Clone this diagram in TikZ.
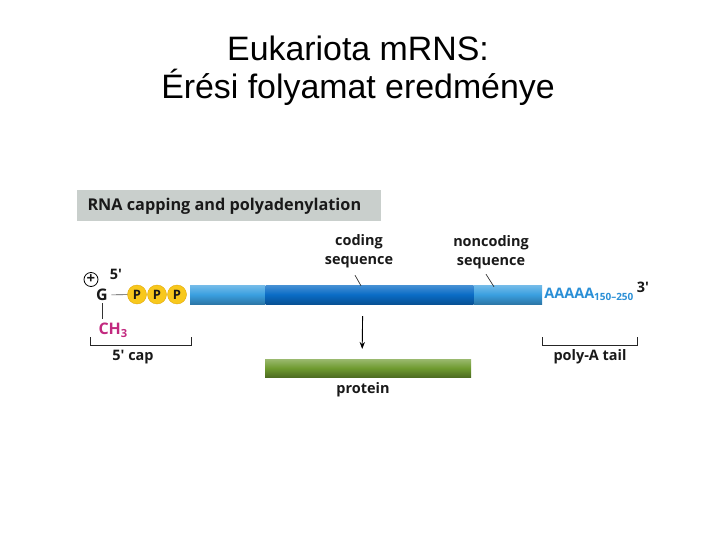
\documentclass[tikz,border=0pt]{standalone}
\usepackage{fontspec}
\setmainfont{Liberation Sans}
\newfontfamily\figfont{Open Sans}
\definecolor{capgray}{HTML}{C9CFCC}
\definecolor{lightrna}{HTML}{3A9FE0}
\definecolor{darkrna}{HTML}{0A6CC6}
\definecolor{polyblue}{HTML}{2A8FD6}
\definecolor{phosfill}{HTML}{F8C81C}
\definecolor{phosline}{HTML}{E2A90A}
\definecolor{methyl}{HTML}{C2297F}
\definecolor{protgreen}{HTML}{6E9A2F}
\usetikzlibrary{arrows.meta,positioning}

\begin{document}
\begin{tikzpicture}[x=1bp,y=-1bp,>=Stealth,
  every node/.style={font=\figfont\bfseries\fontsize{14.5}{19}\selectfont,text=black!90},
  lightseg/.style={rectangle,inner sep=0,minimum height=19bp,top color=lightrna!70!white,bottom color=lightrna!75!black,middle color=lightrna},
  darkseg/.style={rectangle,inner sep=0,minimum height=19bp,top color=darkrna!75!white,bottom color=darkrna!75!black,middle color=darkrna},
  phos/.style={circle,fill=phosfill,draw=phosline,inner sep=0,minimum size=19bp,font=\figfont\bfseries\fontsize{13}{14}\selectfont},
  bracket/.style={black!85,line width=0.9bp}]
\useasboundingbox (0,0) rectangle (720,540);

% title
\node[font=\fontsize{34}{38}\selectfont,align=center,text=black] (title) at (358,71) {Eukariota mRNS:\\Érési folyamat eredménye};

% header
\node[fill=capgray,minimum width=304bp,minimum height=31bp,anchor=north west,inner sep=0] (header) at (77,190) {};
\node[anchor=west,font=\figfont\bfseries\fontsize{16.3}{19}\selectfont] (headertext) at (84,206) {RNA capping and polyadenylation};

% mRNA bar
\node[lightseg,minimum width=75bp,anchor=west] (utr5) at (190,294.5) {};
\node[darkseg,minimum width=208bp,anchor=west] (cds) at (utr5.east) {};
\node[lightseg,minimum width=68bp,anchor=west] (utr3) at (cds.east) {};

% 5' cap
\foreach \i/\x in {1/137,2/157,3/177}
  \node[phos] (p\i) at (\x,294.5) {P};
\node[font=\figfont\bfseries\fontsize{16}{18}\selectfont] (g) at (102,295) {G};
\draw[black!70,line width=0.6bp] (g) -- (p1);
\node[circle,draw,line width=0.8bp,inner sep=0,minimum size=14bp,font=\figfont\bfseries\fontsize{15}{15}\selectfont] (plus) at (91,279.5) {+};
\node (five) at (116,274) {5'};
\node[anchor=west,text=methyl,font=\figfont\bfseries\fontsize{16}{18}\selectfont] (ch3) at (95,330) {CH\textsubscript{3}};
\draw[black!80,line width=0.7bp] (g.south) ++(0,-1) -- (g.south |- ch3.north);

% 5' cap bracket
\draw[bracket] (90,337) |- (191,345) -- (191,337);
\node (caplbl) at (133,357) {5' cap};

% region labels
\node[align=center] (codinglbl) at (359,251) {coding\\sequence};
\node[align=center] (noncodinglbl) at (491,252) {noncoding\\sequence};
\draw[black!80,line width=0.7bp] ([xshift=-4bp,yshift=-4bp]codinglbl.south) -- ([xshift=2bp,yshift=-1bp]codinglbl.south |- cds.north);
\draw[black!80,line width=0.7bp] ([xshift=-5bp,yshift=-2bp]noncodinglbl.south) -- ([xshift=3bp,yshift=-2bp]noncodinglbl.south |- utr3.north);

% 3' end
\node[anchor=west,text=polyblue,inner sep=2bp] (polyA) at (utr3.east) {AAAAA\textsubscript{\fontsize{10}{10}\selectfont 150–250}};
\node (three) at (643,287) {3'};
\draw[bracket] (542,337) |- (637,345) -- (637,337);
\node (taillbl) at (590,357) {poly-A tail};

% protein
\node[rectangle,inner sep=0,minimum width=206bp,minimum height=18bp,anchor=north west,
  top color=protgreen!70!white,bottom color=protgreen!70!black,middle color=protgreen] (protein) at (265,359) {};
\node (proteinlbl) at (363,390) {protein};
\draw[->,line width=0.9bp] ([xshift=-7bp,yshift=-12bp]cds.south) -- ([xshift=-6bp,yshift=10bp]protein.north);
\end{tikzpicture}
\end{document}
